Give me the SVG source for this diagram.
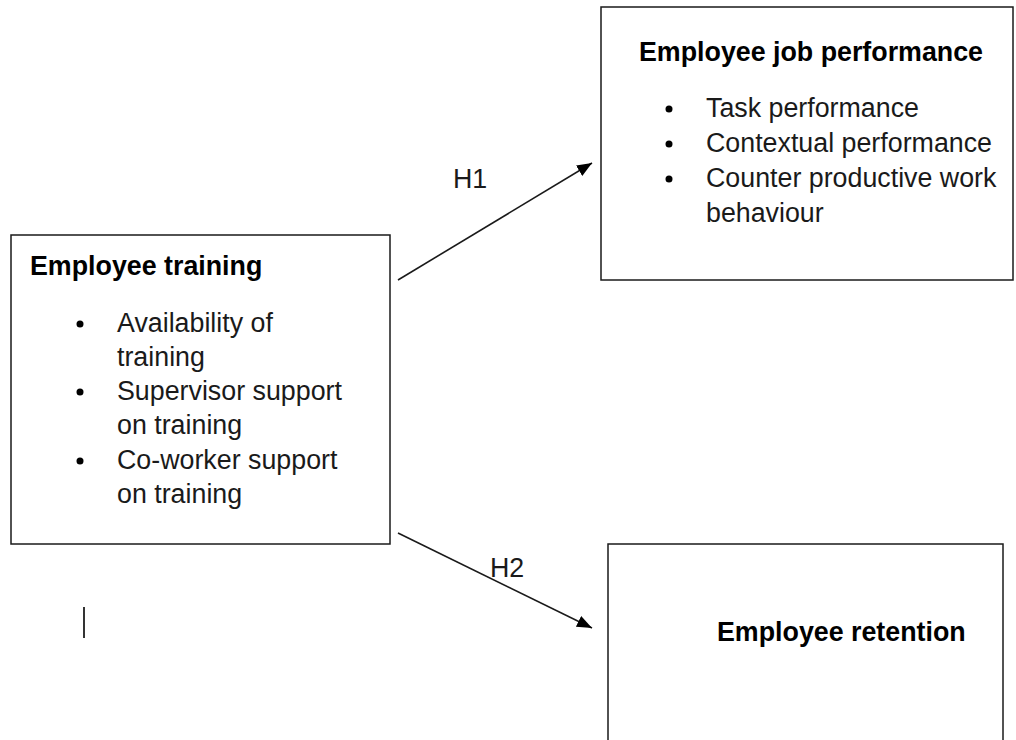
<svg xmlns="http://www.w3.org/2000/svg" width="1016" height="740" viewBox="0 0 1016 740">
  <style>
    .box { fill: #ffffff; stroke: #1a1a1a; stroke-width: 1.5; }
    .title { font-family: "Liberation Sans", Arial, sans-serif; font-weight: bold; font-size: 26.8px; fill: #000000; }
    .item { font-family: "Liberation Sans", Arial, sans-serif; font-size: 26.8px; fill: #1a1a1a; }
    .bullet { fill: #000000; }
    .edge { stroke: #1a1a1a; stroke-width: 1.6; fill: none; }
    .label { font-family: "Liberation Sans", Arial, sans-serif; font-size: 26.8px; fill: #1a1a1a; }
  </style>
  <defs>
    <marker id="arrow" viewBox="0 0 15 12" refX="15" refY="6" markerWidth="15" markerHeight="12" markerUnits="userSpaceOnUse" orient="auto">
      <path d="M0,0 L15,6 L0,12 z" fill="#000000"/>
    </marker>
  </defs>
  <rect width="1016" height="740" fill="#ffffff"/>

  <g id="employee-training">
    <rect class="box" x="11" y="235" width="379" height="309"/>
    <text class="title" x="30" y="275">Employee training</text>
    <circle class="bullet" cx="80" cy="324" r="3.5"/>
    <text class="item" x="117" y="332">Availability of</text>
    <text class="item" x="117" y="366">training</text>
    <circle class="bullet" cx="80" cy="392" r="3.5"/>
    <text class="item" x="117" y="400">Supervisor support</text>
    <text class="item" x="117" y="434">on training</text>
    <circle class="bullet" cx="80" cy="461" r="3.5"/>
    <text class="item" x="117" y="469">Co-worker support</text>
    <text class="item" x="117" y="503">on training</text>
  </g>

  <g id="employee-job-performance">
    <rect class="box" x="601" y="7" width="412" height="273"/>
    <text class="title" x="639" y="61">Employee job performance</text>
    <circle class="bullet" cx="669" cy="109" r="3.5"/>
    <text class="item" x="706" y="117">Task performance</text>
    <circle class="bullet" cx="669" cy="144" r="3.5"/>
    <text class="item" x="706" y="152">Contextual performance</text>
    <circle class="bullet" cx="669" cy="179" r="3.5"/>
    <text class="item" x="706" y="187">Counter productive work</text>
    <text class="item" x="706" y="222">behaviour</text>
  </g>

  <g id="employee-retention">
    <rect class="box" x="608" y="544" width="395" height="210"/>
    <text class="title" x="717" y="641">Employee retention</text>
  </g>

  <g id="connectors">
    <line class="edge" x1="398" y1="280" x2="592" y2="163" marker-end="url(#arrow)"/>
    <text class="label" x="453" y="188">H1</text>
    <line class="edge" x1="398" y1="533" x2="592" y2="628" marker-end="url(#arrow)"/>
    <text class="label" x="490" y="577">H2</text>
  </g>

  <!-- caret mark below the training box -->
  <line x1="84" y1="607" x2="84" y2="638" stroke="#000000" stroke-width="1.6"/>
</svg>
